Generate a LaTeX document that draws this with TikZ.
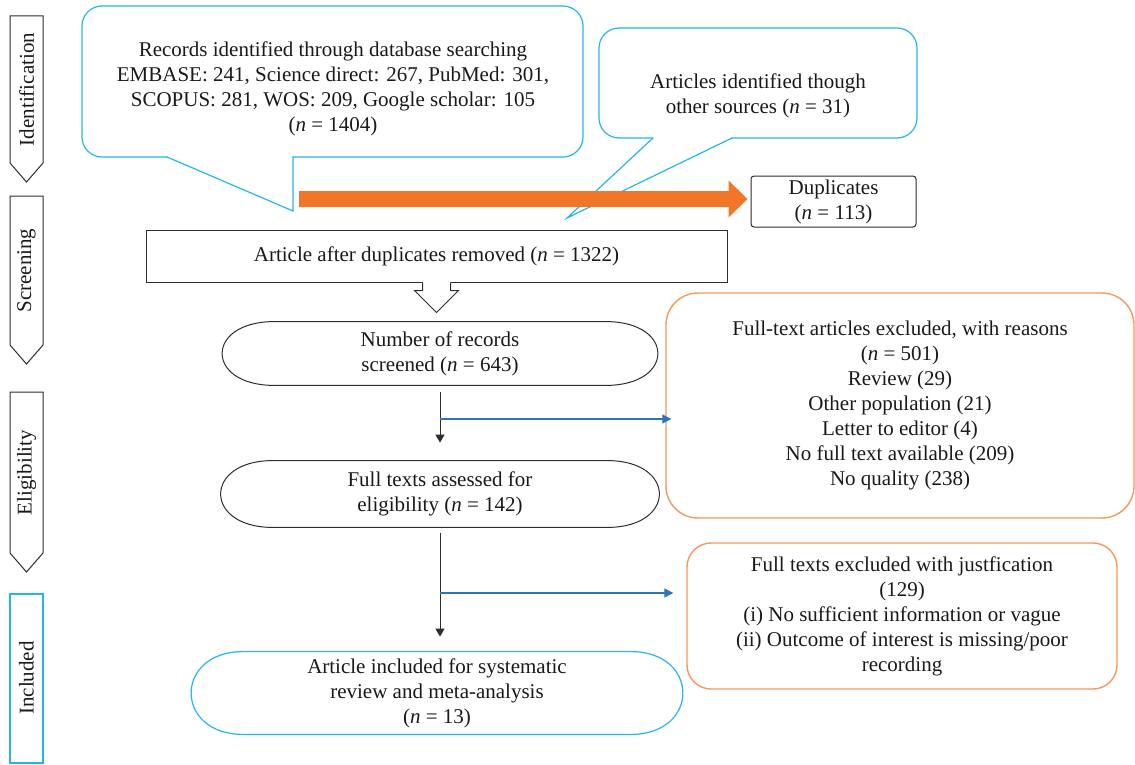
\documentclass[tikz,border=0pt]{standalone}
\usepackage{fontspec}
\setmainfont{Liberation Serif}
\usetikzlibrary{arrows.meta,calc,positioning}

\definecolor{callblue}{RGB}{35,182,236}
\definecolor{exclorange}{RGB}{245,152,90}
\definecolor{fatorange}{RGB}{242,118,40}
\definecolor{branchblue}{RGB}{46,117,182}
\definecolor{linegray}{RGB}{45,45,45}

% pill outline round a named node
\newcommand{\drawpill}[2]{%
  \draw[#2] ($(#1.north west)+(52,0)$) -- ($(#1.north east)+(-52,0)$)
    .. controls ($(#1.north east)+(17.3,0)$) and ($(#1.south east)+(17.3,0)$) .. ($(#1.south east)+(-52,0)$)
    -- ($(#1.south west)+(52,0)$)
    .. controls ($(#1.south west)+(-17.3,0)$) and ($(#1.north west)+(-17.3,0)$) .. cycle;}

\begin{document}
\begin{tikzpicture}[x=0.5pt,y=-0.5pt,
  txt/.style={align=center,inner sep=0pt,text=black!90,font=\fontsize{10.5}{12.5}\selectfont},
  plainbox/.style={txt,draw=linegray,line width=0.5pt},
  exclbox/.style={txt,draw=exclorange,line width=0.7pt},
  pilltxt/.style={txt},
  stage/.style={draw=linegray,line width=0.5pt,line join=miter},
  stagetxt/.style={txt,rotate=90},
  callline/.style={draw=callblue,line width=0.6pt,line cap=round},
  flow/.style={draw=linegray,line width=0.5pt,-{Triangle[length=4pt,width=4.5pt]}},
  branch/.style={draw=branchblue,line width=0.6pt,-{Triangle[length=4.5pt,width=4.5pt]}},
  fat/.style={draw=fatorange,line width=8pt,-{Triangle[length=9.5pt,width=18pt]}}]
\useasboundingbox (0,0) rectangle (1135,765);

% stages on the left
\foreach \nm/\txt/\ya/\yb in {ident/Identification/16/163,screen/Screening/196/345,elig/Eligibility/392/553}{
  \draw[stage] (10,\ya) -- (43,\ya) -- (43,\yb) -- (26.5,\yb+19) -- (10,\yb) -- cycle;
  \node[stagetxt] (\nm) at (26.5,{(\ya+\yb)/2}) {\txt};
}
\draw[callline] (10,594) rectangle (43,763);
\node[stagetxt] (incstage) at (26.5,678) {Included};

% callouts
\node[txt] (recs) at (333,89) {Records identified through database searching\\EMBASE: 241, Science direct: 267, PubMed: 301,\\SCOPUS: 281, WOS: 209, Google scholar: 105\\(\textit{n} = 1404)};
\coordinate (recs-tip) at (293,211);
\draw[callline,rounded corners=10pt] (167,157) -- (82,157) -- (82,6) -- (583,6) -- (583,157) -- (293,157);
\draw[callline] (167,157) -- (recs-tip) -- (293,157);

\node[txt] (other) at (758,96) {Articles identified though\\other sources (\textit{n} = 31)};
\coordinate (other-tip) at (567,218);
\draw[callline,rounded corners=10pt] (653,138) -- (599,138) -- (599,28) -- (917,28) -- (917,138) -- (732,138);
\draw[callline] (653,138) -- (other-tip) -- (732,138);

% boxes
\node[plainbox,rounded corners=1.5pt,minimum width=82.5pt,minimum height=25.5pt] (dup) at (833.5,201.5) {Duplicates\\(\textit{n} = 113)};
\node[plainbox,minimum width=290.5pt,minimum height=26pt] (after) at (436.5,256) {Article after duplicates removed (\textit{n} = 1322)};
\fill[white] ($(after.south)+(-14,-1)$) -- ($(after.south)+(-14,8)$) -- ($(after.south)+(-22,8)$) -- ($(after.south)+(0,30)$)
  -- ($(after.south)+(22,8)$) -- ($(after.south)+(14,8)$) -- ($(after.south)+(14,-1)$) -- cycle;
\draw[stage] ($(after.south)+(-14,0)$) -- ($(after.south)+(-14,8)$) -- ($(after.south)+(-22,8)$) -- ($(after.south)+(0,30)$)
  -- ($(after.south)+(22,8)$) -- ($(after.south)+(14,8)$) -- ($(after.south)+(14,0)$);

\node[pilltxt,minimum width=217.5pt,minimum height=31.5pt] (scr) at (440,353.5) {Number of records\\screened (\textit{n} = 643)};
\drawpill{scr}{draw=linegray,line width=0.5pt}
\node[pilltxt,minimum width=219pt,minimum height=33pt] (full) at (440,494) {Full texts assessed for\\eligibility (\textit{n} = 142)};
\drawpill{full}{draw=linegray,line width=0.5pt}
\node[pilltxt,minimum width=245.5pt,minimum height=41pt] (incl) at (437,693) {Article included for systematic\\review and meta-analysis\\(\textit{n} = 13)};
\drawpill{incl}{draw=callblue,line width=0.6pt}

\node[exclbox,rounded corners=16pt,minimum width=234pt,minimum height=112.5pt] (excl1) at (900,405.5) {Full-text articles excluded, with reasons\\(\textit{n} = 501)\\Review (29)\\Other population (21)\\Letter to editor (4)\\No full text available (209)\\No quality (238)};
\node[exclbox,rounded corners=12pt,minimum width=215pt,minimum height=73pt] (excl2) at (902,616) {Full texts excluded with justfication\\(129)\\(i) No sufficient information or vague\\(ii) Outcome of interest is missing/poor\\recording};

% arrows
\coordinate (dupsrc) at (299,199);
\draw[fat,shorten >=1.5pt] (dupsrc) -- (dupsrc -| dup.west);
\draw[flow,shorten <=3.5pt,shorten >=9pt] (scr.south) -- (full.north);
\draw[flow,shorten <=3pt,shorten >=7.5pt] (full.south) -- (full.south |- incl.north);
\draw[branch,shorten >=-3pt] (440,419) coordinate (br1) -- (br1 -| excl1.west);
\draw[branch,shorten >=6.5pt] (440,593) coordinate (br2) -- (br2 -| excl2.west);
\end{tikzpicture}
\end{document}
